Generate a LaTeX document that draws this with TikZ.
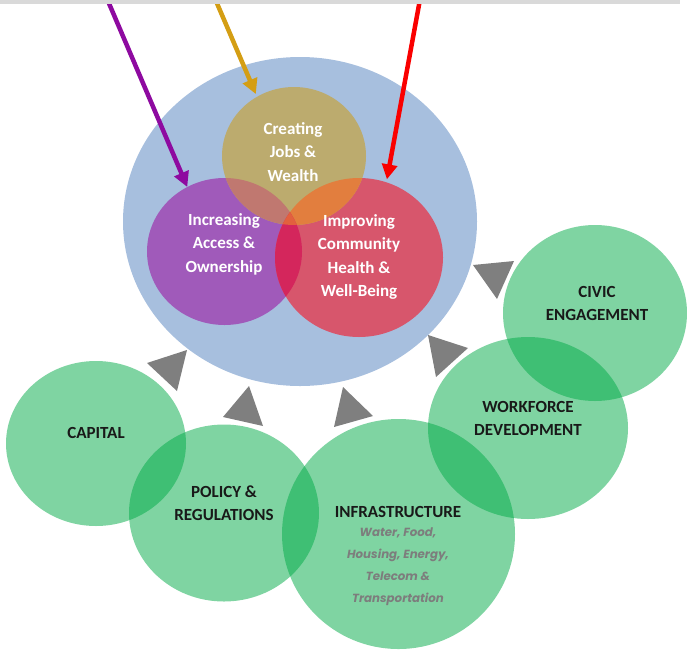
\documentclass[tikz,border=0pt]{standalone}
\usepackage{fontspec}
\setmainfont{Carlito}
\newfontfamily\geo{Poppins}
\usetikzlibrary{shapes.geometric,arrows.meta}
\definecolor{bluec}{RGB}{167,191,222}
\definecolor{yelc}{RGB}{188,171,110}
\definecolor{purc}{RGB}{160,90,186}
\definecolor{redc}{RGB}{215,86,108}
\definecolor{ypc}{RGB}{192,120,112}
\definecolor{yrc}{RGB}{226,126,62}
\definecolor{prc}{RGB}{212,38,92}
\definecolor{yprc}{RGB}{226,96,62}
\definecolor{grnc}{RGB}{0,170,70}
\definecolor{tric}{RGB}{127,127,127}
\definecolor{barc}{RGB}{217,217,217}
\definecolor{arrp}{RGB}{142,10,160}
\definecolor{arry}{RGB}{212,158,20}
\definecolor{arrr}{RGB}{250,0,0}
\definecolor{subc}{RGB}{125,125,125}
\definecolor{txtc}{RGB}{25,25,25}
\tikzset{
  blob/.style={ellipse, inner sep=0pt, outer sep=0pt, draw=none},
  greenblob/.style={blob, fill=grnc, fill opacity=0.5},
  venntxt/.style={text=white, font=\bfseries\fontsize{17}{23.5}\selectfont, align=center},
  grntxt/.style={text=txtc, font=\bfseries\fontsize{17}{23}\selectfont, align=center},
  subtxt/.style={text=subc, font=\geo\bfseries\itshape\fontsize{11.8}{22}\selectfont, align=center},
  feed/.style={fill=tric},
  bigarrow/.style={line width=4.5pt, -{Triangle[length=15pt,width=15pt]}}
}
\begin{document}
\begin{tikzpicture}[x=1pt,y=-1pt]
\useasboundingbox (0,0) rectangle (687,651);
% Venn
\node[blob, fill=bluec, minimum width=354pt, minimum height=329pt] (blue) at (300,221.5) {};
\node[blob, fill=purc, minimum width=155pt, minimum height=147pt] (purple) at (224.5,251.5) {};
\node[blob, fill=redc, minimum width=168pt, minimum height=159pt] (red) at (359,257.5) {};
\node[blob, fill=yelc, minimum width=144pt, minimum height=138pt] (yellow) at (294,156) {};
\begin{scope}
  \clip (294,156) ellipse [x radius=72pt, y radius=69pt];
  \fill[ypc] (224.5,251.5) ellipse [x radius=77.5pt, y radius=73.5pt];
  \fill[yrc] (359,257.5) ellipse [x radius=84pt, y radius=79.5pt];
\end{scope}
\begin{scope}
  \clip (224.5,251.5) ellipse [x radius=77.5pt, y radius=73.5pt];
  \fill[prc] (359,257.5) ellipse [x radius=84pt, y radius=79.5pt];
  \clip (294,156) ellipse [x radius=72pt, y radius=69pt];
  \fill[yprc] (359,257.5) ellipse [x radius=84pt, y radius=79.5pt];
\end{scope}
\node[venntxt] (tY) at (293,152) {Creating\\Jobs \&\\Wealth};
\node[venntxt] (tP) at (224,244) {Increasing\\Access \&\\Ownership};
\node[venntxt] (tR) at (359,257) {Improving\\Community\\Health \&\\Well-Being};
% green circles
\node[greenblob, minimum width=180pt, minimum height=165pt] (capital) at (96,443.5) {};
\node[greenblob, minimum width=190pt, minimum height=177pt] (policy) at (224,513) {};
\node[greenblob, minimum width=233pt, minimum height=230pt] (infra) at (398.5,534) {};
\node[greenblob, minimum width=200pt, minimum height=182pt] (work) at (528,428) {};
\node[greenblob, minimum width=184pt, minimum height=176pt] (civic) at (595,313) {};
\node[grntxt] (tCap) at (96,433) {CAPITAL};
\node[grntxt] (tPol) at (224,503) {POLICY \&\\REGULATIONS};
\node[grntxt] (tInf) at (398,512) {INFRASTRUCTURE};
\node[subtxt] (tInfs) at (398,567) {Water, Food,\\Housing, Energy,\\Telecom \&\\Transportation};
\node[grntxt] (tWork) at (528,418) {WORKFORCE\\DEVELOPMENT};
\node[grntxt] (tCiv) at (597,303) {CIVIC\\ENGAGEMENT};
% feedback triangles
\fill[feed] (147,363) -- (187,350) -- (177,391) -- cycle;
\fill[feed] (223,417) -- (249,386) -- (263,426) -- cycle;
\fill[feed] (334,427) -- (343,387) -- (373,416) -- cycle;
\fill[feed] (473,265) -- (514,261) -- (497,299) -- cycle;
\fill[feed] (428,335) -- (468,348) -- (436,377) -- cycle;
% arrows
\coordinate (ps) at (105,-6);
\coordinate (ys) at (213,-6);
\coordinate (rs) at (421,-6);
\draw[bigarrow, arrp] (ps) -- (purple.120);
\draw[bigarrow, arry, shorten >=3pt] (ys) -- (yellow.122);
\draw[bigarrow, arrr, shorten >=3pt] (rs) -- (red.70);
% top bar
\fill[barc] (0,0) rectangle (680,4);
\end{tikzpicture}
\end{document}
